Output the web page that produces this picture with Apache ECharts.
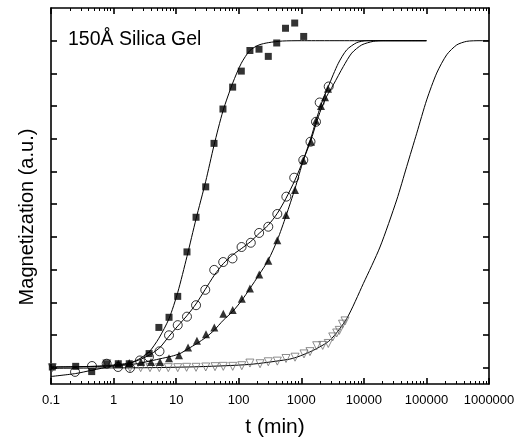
<!DOCTYPE html>
<html><head><meta charset="utf-8">
<script src="https://cdn.jsdelivr.net/npm/echarts@6/dist/echarts.min.js"></script>
<style>html,body{margin:0;padding:0;background:#fff}#c{width:518px;height:439px}</style>
</head><body><div id="c"></div>
<script>
// ---- data: [t (min), magnetization (a.u.)] ----
const squares = [[0.105,0.002],[0.248,0.004],[0.447,-0.012],[0.776,0.012],[1.19,0.012],[1.78,0.012],[3.7,0.043],[5.3,0.123],[7.7,0.154],[10.6,0.218],[14.9,0.354],[20.8,0.46],[29.7,0.553],[40.3,0.686],[56,0.791],[80,0.858],[110,0.907],[151,0.97],[211,0.974],[297,0.952],[405,0.993],[560,1.038],[785,1.054],[1093,1.013]];
const circles = [[0.242,-0.013],[0.452,0.005],[0.776,0.012],[1.18,0.002],[1.83,-0.001],[2.64,0.022],[3.68,0.033],[5.42,0.05],[7.69,0.099],[10.6,0.13],[14.9,0.156],[20.8,0.191],[29.2,0.238],[40.6,0.299],[56.5,0.323],[79.6,0.334],[111,0.369],[156,0.382],[212,0.412],[297,0.431],[414,0.47],[577,0.523],[771,0.581],[1077,0.635],[1403,0.691],[1718,0.752],[1968,0.811],[2743,0.86]];
const triangles = [[1.19,0.012],[1.78,0.014],[2.74,0.017],[3.96,0.017],[5.52,0.017],[7.69,0.029],[11.1,0.038],[15.5,0.062],[21.5,0.082],[30,0.102],[40.7,0.123],[56.7,0.165],[80.2,0.176],[112,0.211],[151,0.242],[213,0.285],[297,0.327],[414,0.39],[570,0.467],[794,0.543],[1077,0.634],[1429,0.691],[1718,0.755],[2066,0.8],[2393,0.827],[2673,0.853]];
const downTriangles = [[0.105,0.0],[0.78,0.012],[1.83,0.0],[2.71,0.0],[3.82,0.0],[5.38,0.0],[7.49,0.0],[10.6,0.0],[14.7,0.001],[20.8,0.001],[29.7,0.002],[41.8,0.003],[56.7,0.004],[80.2,0.004],[112,0.006],[151,0.014],[219,0.012],[297,0.018],[414,0.02],[570,0.028],[794,0.032],[1105,0.042],[1377,0.049],[1763,0.067],[2200,0.068],[2700,0.074],[3180,0.094],[3680,0.106],[4050,0.114],[4560,0.133],[5000,0.143]];

const fitSquares = [[0.1,0.002],[0.3,0.003],[0.6,0.005],[1,0.008],[1.5,0.012],[2,0.017],[2.64,0.028],[3.7,0.048],[5.3,0.09],[7.7,0.15],[10.6,0.23],[14.9,0.34],[20.8,0.455],[29.7,0.57],[40.3,0.68],[56,0.785],[80,0.87],[110,0.931],[151,0.97],[211,0.987],[297,0.994],[500,0.999],[1000,1],[100000,1]];
const fitCircles = [[0.1,-0.027],[0.248,-0.018],[0.447,-0.008],[0.933,0.004],[1.72,0.012],[2.82,0.027],[4.07,0.043],[5.52,0.062],[7.69,0.096],[10.6,0.127],[14.9,0.159],[20.8,0.195],[28.9,0.238],[40.8,0.283],[56.7,0.318],[79,0.344],[112,0.365],[156,0.386],[213,0.411],[297,0.436],[414,0.472],[570,0.518],[794,0.574],[1077,0.635],[1429,0.696],[1718,0.745],[2066,0.79],[2550,0.83],[3251,0.865],[4697,0.921],[6397,0.962],[9240,0.987],[14160,0.998],[20460,1.0],[100000,1.0]];
const fitTriangles = [[0.1,0.002],[0.607,0.004],[1.83,0.009],[3.18,0.017],[5.52,0.027],[8.49,0.035],[11.5,0.043],[15.6,0.058],[21.5,0.074],[30,0.093],[40.3,0.114],[56.7,0.145],[80.2,0.172],[112,0.206],[151,0.242],[213,0.285],[297,0.329],[414,0.39],[570,0.464],[794,0.548],[1077,0.634],[1429,0.703],[1718,0.755],[2066,0.804],[2704,0.86],[3907,0.931],[5321,0.972],[7690,0.994],[11110,1.0],[100000,1.0]];
const fitDown = [[0.1,-0.002],[0.607,-0.001],[3.82,0.0],[24,0.003],[151,0.01],[607,0.025],[845,0.032],[1556,0.053],[2877,0.084],[5321,0.15],[9800,0.257],[18120,0.369],[33500,0.513],[48400,0.615],[70000,0.717],[101000,0.819],[146000,0.901],[211000,0.957],[305000,0.987],[440000,0.998],[718000,1.0],[1000000,1.0]];

const xTickLabels = ['0.1','1','10','100','1000','10000','100000','1000000'];
const yTicks = [0,0.1,0.2,0.3,0.4,0.5,0.6,0.7,0.8,0.9,1.0];
const minorMultiples = [2,3,4,5,6,7,8,9];

// ---- chart ----
const FONT = '"Liberation Sans", Arial, sans-serif';
const minorTickPos = [];
for (let d = -1; d < 6; d++) for (const m of minorMultiples) minorTickPos.push(d + Math.log10(m));

const lineStyleAxis = {color:'#000', width:1.6};
function majorX(pos, labels) {
  return {type:'log', logBase:10, min:0.1, max:1000000, position:pos,
    axisLine:{show:true, onZero:false, lineStyle:lineStyleAxis},
    axisTick:{show:true, inside:true, length:6, lineStyle:lineStyleAxis},
    axisLabel:{show:labels, margin:10, color:'#000', fontSize:13, fontFamily:FONT,
      formatter: v => xTickLabels[Math.round(Math.log10(v)) + 1]},
    splitLine:{show:false}, minorTick:{show:false}};
}
function minorX(pos) {
  return {type:'value', min:-1, max:6, position:pos,
    axisLine:{show:false, onZero:false},
    axisTick:{show:true, inside:true, length:3, customValues:minorTickPos, lineStyle:{color:'#000', width:1}},
    axisLabel:{show:false}, splitLine:{show:false}};
}
function yAx(pos) {
  return {type:'value', min:-0.05, max:1.1, position:pos,
    axisLine:{show:true, onZero:false, lineStyle:lineStyleAxis},
    axisTick:{show:true, inside:true, length:6, customValues:yTicks, lineStyle:lineStyleAxis},
    axisLabel:{show:false}, splitLine:{show:false}};
}
function fit(data) {
  return {type:'line', data:data, xAxisIndex:0, yAxisIndex:0, showSymbol:false, symbol:'none',
    smooth:0.25, lineStyle:{color:'#000', width:1}, z:2};
}
function pts(data, symbol, size, fill, stroke, rot) {
  return {type:'scatter', data:data, xAxisIndex:0, yAxisIndex:0, symbol:symbol, symbolSize:size,
    symbolRotate:rot || 0,
    itemStyle:{color:fill, borderColor:stroke, borderWidth:stroke ? 1 : 0}, z:3};
}

const chart = echarts.init(document.getElementById('c'), null, {renderer:'canvas'});
chart.setOption({
  animation:false,
  backgroundColor:'#fff',
  grid:{left:51, right:29, top:8, bottom:55, containLabel:false},
  xAxis:[majorX('bottom', true), majorX('top', false), minorX('bottom'), minorX('top')],
  yAxis:[yAx('left'), yAx('right')],
  series:[
    fit(fitSquares), fit(fitCircles), fit(fitTriangles), fit(fitDown),
    pts(downTriangles, 'triangle', 8, 'rgba(255,255,255,0)', '#707070', 180),
    pts(circles, 'circle', 9, 'rgba(255,255,255,0)', '#000'),
    pts(triangles, 'triangle', 8, '#000', null),
    pts(squares, 'rect', 7, '#000', null)
  ],
  graphic:[
    {type:'text', x:68, y:40, style:{text:'150Å Silica Gel', font:'19.5px ' + FONT, fill:'#000', align:'left', verticalAlign:'middle'}},
    {type:'text', x:275, y:427, style:{text:'t (min)', font:'21px ' + FONT, fill:'#000', align:'center', verticalAlign:'middle'}},
    {type:'text', x:27, y:217, rotation:Math.PI/2, style:{text:'Magnetization (a.u.)', font:'20px ' + FONT, fill:'#000', align:'center', verticalAlign:'middle'}}
  ]
});
</script></body></html>
